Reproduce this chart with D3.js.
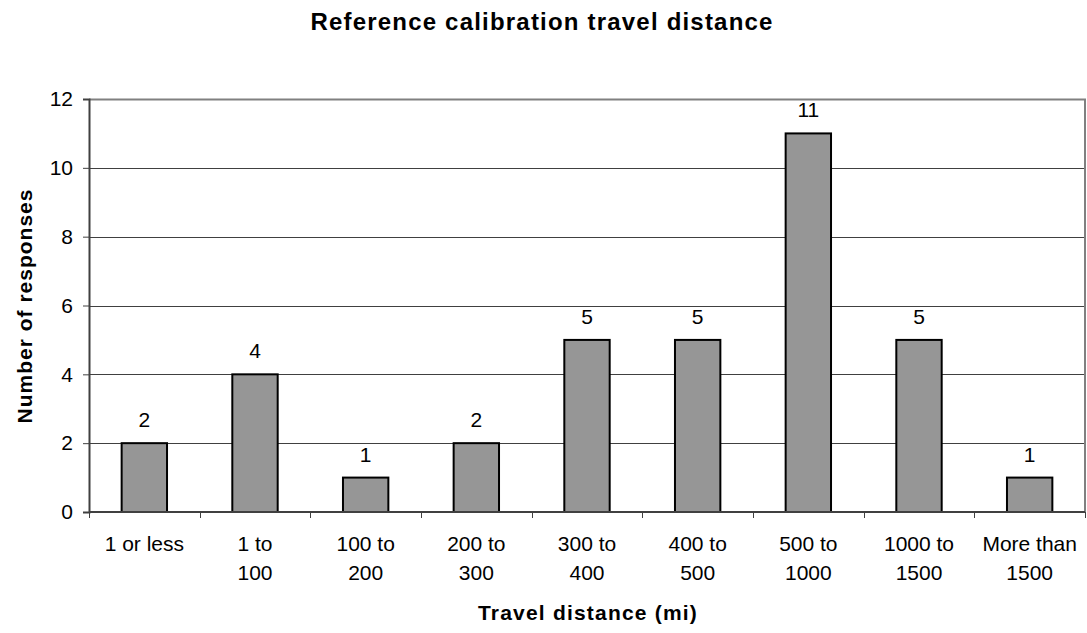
<!DOCTYPE html>
<html lang="en">
<head>
  <meta charset="utf-8"/>
  <title>Reference calibration travel distance</title>
  <style>
    body { margin: 0; background: #fff; }
    svg { display: block; font-family: "Liberation Sans", Arial, sans-serif; }
  </style>
</head>
<body>
<div id="chart"></div>
<script src="https://cdn.jsdelivr.net/npm/d3@7/dist/d3.min.js"></script>
<script>
  // data
  const categories = [
    ['1 or less'], ['1 to', '100'], ['100 to', '200'], ['200 to', '300'],
    ['300 to', '400'], ['400 to', '500'], ['500 to', '1000'], ['1000 to', '1500'],
    ['More than', '1500']
  ];
  const responses = [2, 4, 1, 2, 5, 5, 11, 5, 1];
  const yTicks = [0, 2, 4, 6, 8, 10, 12];

  const width = 1087, height = 633;
  const margin = {top: 99, right: 2, bottom: 120, left: 89};
  const plotW = width - margin.left - margin.right;
  const plotH = height - margin.top - margin.bottom - 1;

  const svg = d3.select('#chart').append('svg')
    .attr('width', width)
    .attr('height', height);

  const keys = categories.map((c, i) => i);
  const x = d3.scaleBand().domain(keys).range([0, plotW]).paddingInner(0).paddingOuter(0);
  const y = d3.scaleLinear().domain([0, 12]).range([plotH, 0]);

  const g = svg.append('g').attr('transform', `translate(${margin.left},${margin.top})`);

  // gridlines
  g.selectAll('line.grid')
    .data(yTicks.filter(t => t > 0 && t < 12))
    .enter()
    .append('line')
    .attr('class', 'grid')
    .attr('x1', 0).attr('x2', plotW)
    .attr('y1', d => Math.round(y(d)) + 0.5).attr('y2', d => Math.round(y(d)) + 0.5)
    .attr('stroke', '#404040').attr('stroke-width', 1);

  // plot frame top / right
  g.append('path')
    .attr('d', `M0,0.5H${plotW}V${plotH}`)
    .attr('fill', 'none')
    .attr('stroke', '#808080')
    .attr('stroke-width', 2);

  // bars
  const barW = x.bandwidth() * 0.41;
  g.selectAll('rect.bar')
    .data(responses)
    .enter()
    .append('rect')
    .attr('class', 'bar')
    .attr('x', (d, i) => x(i) + (x.bandwidth() - barW) / 2)
    .attr('y', d => y(d))
    .attr('width', barW)
    .attr('height', d => plotH - y(d))
    .attr('fill', '#969696')
    .attr('stroke', '#000')
    .attr('stroke-width', 2);

  // value labels
  g.selectAll('text.value')
    .data(responses)
    .enter()
    .append('text')
    .attr('class', 'value')
    .attr('x', (d, i) => x(i) + x.bandwidth() / 2)
    .attr('y', d => y(d) - 16)
    .attr('text-anchor', 'middle')
    .attr('font-size', 21)
    .attr('fill', '#000')
    .text(d => d);

  // y axis
  const yAxis = g.append('g')
    .call(d3.axisLeft(y).tickValues(yTicks).tickSize(6).tickPadding(10));
  yAxis.select('.domain').attr('stroke', '#404040').attr('stroke-width', 2);
  yAxis.selectAll('.tick line').attr('stroke', '#404040');
  yAxis.selectAll('.tick text')
    .attr('font-size', 21)
    .attr('font-family', '"Liberation Sans", Arial, sans-serif')
    .attr('fill', '#000');

  // x axis with ticks at category boundaries
  const xAxisG = g.append('g').attr('transform', `translate(0,${plotH})`);
  xAxisG.append('line')
    .attr('x1', 0).attr('x2', plotW)
    .attr('y1', 0).attr('y2', 0)
    .attr('stroke', '#404040').attr('stroke-width', 2);
  xAxisG.selectAll('line.tick')
    .data(d3.range(categories.length + 1))
    .enter()
    .append('line')
    .attr('class', 'tick')
    .attr('x1', i => Math.round(i * x.step()) + 0.5)
    .attr('x2', i => Math.round(i * x.step()) + 0.5)
    .attr('y1', 0).attr('y2', 6)
    .attr('stroke', '#404040');

  const labels = xAxisG.selectAll('text.cat')
    .data(categories)
    .enter()
    .append('text')
    .attr('class', 'cat')
    .attr('text-anchor', 'middle')
    .attr('font-size', 21)
    .attr('fill', '#000')
    .attr('transform', (d, i) => `translate(${x(i) + x.bandwidth() / 2},0)`);
  labels.selectAll('tspan')
    .data(d => d)
    .enter()
    .append('tspan')
    .attr('x', 0)
    .attr('y', (d, i) => 39 + i * 29)
    .text(d => d);

  // titles
  svg.append('text')
    .attr('x', 542).attr('y', 30)
    .attr('text-anchor', 'middle')
    .attr('font-size', 24).attr('font-weight', 'bold')
    .attr('letter-spacing', 1.2)
    .text('Reference calibration travel distance');

  svg.append('text')
    .attr('x', 588).attr('y', 620)
    .attr('text-anchor', 'middle')
    .attr('font-size', 21).attr('font-weight', 'bold')
    .attr('letter-spacing', 1.2)
    .text('Travel distance (mi)');

  svg.append('text')
    .attr('transform', `translate(32,306) rotate(-90)`)
    .attr('text-anchor', 'middle')
    .attr('font-size', 21).attr('font-weight', 'bold')
    .attr('letter-spacing', 1)
    .text('Number of responses');
</script>
</body>
</html>
